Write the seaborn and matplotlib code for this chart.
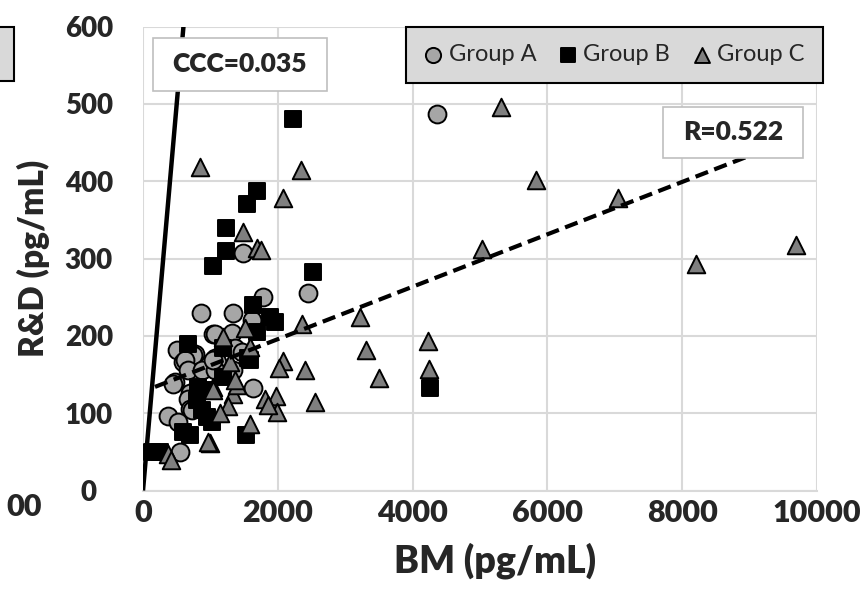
import matplotlib
matplotlib.use("Agg")
import matplotlib.pyplot as plt
import matplotlib.patches as mpatches
import seaborn as sns
import pandas as pd
import numpy as np

# ---- data ----
a_x = [4360, 2455, 1490, 1787, 861, 1341, 1623, 1044, 1317, 1069, 500, 772, 747, 598,
       624, 1069, 1094, 1366, 1466, 672, 871, 1292, 1069, 1341, 475, 450, 700, 673,
       698, 723, 1638, 376, 524, 549, 1044]
a_y = [487, 255, 307, 250, 229, 229, 220, 202, 204, 203, 182, 177, 175, 166,
       169, 171, 166, 184, 179, 156, 156, 153, 156, 156, 141, 138, 126, 119,
       106, 104, 132, 97, 89, 50, 169]

b_x = [2227, 1688, 1549, 1232, 1232, 1034, 2529, 1638, 1886, 1960, 1688, 673, 1193,
       1564, 1589, 1193, 821, 965, 796, 871, 945, 1020, 599, 698, 1529, 4251, 134, 252]
b_y = [481, 387, 371, 340, 310, 290, 283, 240, 225, 218, 205, 190, 184,
       172, 169, 147, 134, 130, 117, 104, 95, 89, 76, 72, 72, 133, 50, 50]

c_x = [846, 2341, 2074, 1480, 1690, 1750, 5316, 5835, 5029, 7043, 8211, 9691, 3222,
       2356, 3306, 4222, 2405, 3504, 4250, 2554, 2083, 2024, 1975, 1985, 1811, 1861,
       1589, 1341, 1267, 1143, 995, 1044, 1391, 970, 376, 411, 1514, 1193, 1589, 1292,
       1366, 1044]
c_y = [418, 414, 378, 334, 314, 311, 496, 402, 313, 379, 293, 317, 224,
       216, 182, 194, 156, 146, 157, 115, 168, 158, 122, 102, 119, 110,
       86, 125, 109, 100, 61, 134, 136, 63, 47, 40, 210, 199, 186, 166,
       143, 130]

groups = ["Group A", "Group B", "Group C"]
x_ticks = [0, 2000, 4000, 6000, 8000, 10000]
y_ticks = [0, 100, 200, 300, 400, 500, 600]

# regression line (dashed)
fit_intercept = 128.0
fit_slope = 0.0339
fit_x = [178, 9700]
# identity line (CCC)
ident_x = [0, 650]

ccc_text = "CCC=0.035"
r_text = "R=0.522"

df = pd.DataFrame({
    "BM": a_x + b_x + c_x,
    "RD": a_y + b_y + c_y,
    "group": ["Group A"] * len(a_x) + ["Group B"] * len(b_x) + ["Group C"] * len(c_x),
})

# ---- style ----
sns.set_theme(style="white")
plt.rcParams["font.family"] = ["Lato", "DejaVu Sans"]
BOLD = "heavy"

W, H = 863, 592
fig = plt.figure(figsize=(W / 100, H / 100), dpi=100)
L, R, T, B = 143, 817, 26.7, 490.5
ax = fig.add_axes([L / W, 1 - B / H, (R - L) / W, (B - T) / H])

palette = {"Group A": "#a6a6a6", "Group B": "#000000", "Group C": "#7f7f7f"}
markers = {"Group A": "o", "Group B": "s", "Group C": "^"}
sizes_map = {"Group A": 165, "Group B": 140, "Group C": 160}

for g in groups:
    sub = df[df.group == g]
    sns.scatterplot(data=sub, x="BM", y="RD", ax=ax, color=palette[g],
                    marker=markers[g], s=sizes_map[g], edgecolor="black",
                    linewidth=1.4, label=g, zorder=3)

# lines
fx = np.array(fit_x, dtype=float)
ax.plot(fx, fit_intercept + fit_slope * fx, color="black", lw=3,
        ls=(0, (3.2, 1.6)), zorder=4)
ix = np.array(ident_x, dtype=float)
ax.plot(ix, ix, color="black", lw=3.2, zorder=4, solid_capstyle="butt")

ax.set_xlim(0, 10000)
ax.set_ylim(0, 600)
ax.set_xticks(x_ticks)
ax.set_yticks(y_ticks)
ax.set_xticklabels([str(v) for v in x_ticks])
ax.set_yticklabels([str(v) for v in y_ticks])
ax.grid(True, color="#d9d9d9", lw=1.5, zorder=0)
ax.set_axisbelow(True)
for s in ["top", "right", "left"]:
    ax.spines[s].set_visible(False)
ax.spines["bottom"].set_color("#d9d9d9")
ax.spines["bottom"].set_linewidth(1.5)

ax.tick_params(axis="both", length=0)
ax.tick_params(axis="x", pad=6, labelsize=22)
ax.tick_params(axis="y", pad=39, labelsize=20)
for lab in ax.get_yticklabels():
    lab.set_horizontalalignment("center")
    lab.set_fontweight(BOLD)
for lab in ax.get_xticklabels():
    lab.set_fontweight(BOLD)

ax.set_xlabel("BM (pg/mL)", fontsize=27, fontweight=BOLD, va="center")
ax.set_ylabel("R&D (pg/mL)", fontsize=24, fontweight=BOLD)
ax.xaxis.set_label_coords((495 - L) / (R - L), (B - 561) / (B - T))
ax.yaxis.set_label_coords((50 - L) / (R - L), 0.5)

# legend
handles, labels = ax.get_legend_handles_labels()
leg = ax.legend(handles, labels, ncol=3, loc="upper left",
                bbox_to_anchor=((406 - L) / (R - L), 1.0), borderaxespad=0,
                fontsize=17, frameon=True, fancybox=False, framealpha=1,
                facecolor="#d9d9d9", edgecolor="black", handlelength=0.8,
                handletextpad=0.25, columnspacing=0.95, borderpad=0.75,
                markerscale=0.85)
leg.get_frame().set_linewidth(1.5)
leg.set_zorder(6)

# annotation boxes
def label_box(x0, y0, x1, y1, text):
    ax0 = (x0 - L) / (R - L)
    ax1 = (x1 - L) / (R - L)
    ay0 = (B - y1) / (B - T)
    ay1 = (B - y0) / (B - T)
    rect = mpatches.Rectangle((ax0, ay0), ax1 - ax0, ay1 - ay0, transform=ax.transAxes,
                              facecolor="white", edgecolor="#bfbfbf", lw=1.2, zorder=5,
                              clip_on=False)
    ax.add_patch(rect)
    ax.text((ax0 + ax1) / 2, (ay0 + ay1) / 2, text, transform=ax.transAxes,
            ha="center", va="center", fontsize=19, fontweight=BOLD, zorder=6)

label_box(153, 38, 327, 91, ccc_text)
label_box(663, 107, 803, 158, r_text)

# fragments of the neighbouring panel at the left edge
fig.text(42 / W, 1 - 507 / H, "00", ha="right", va="center", fontsize=22,
         fontweight=BOLD)
fig.patches.append(mpatches.Rectangle((-0.01, 1 - 81 / H), 0.01 + 14 / W, 54 / H,
                                      transform=fig.transFigure, facecolor="#d9d9d9",
                                      edgecolor="black", lw=1.5))

fig.savefig("out.png", dpi=100)
